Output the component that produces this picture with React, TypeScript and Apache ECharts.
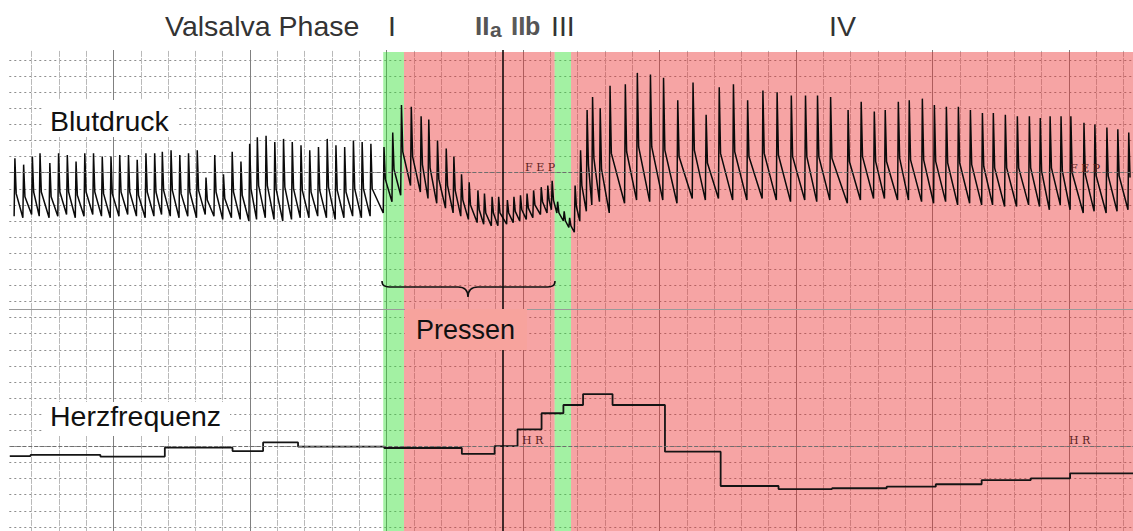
import React, { useEffect, useRef } from "react";
import * as echarts from "echarts";

// ---------- time base: seconds (2.5 s per chart-paper division) ----------
const T_END = 103.36;

// ---------- arterial blood pressure, beat by beat (mmHg) ----------
// onset time (s), systolic peak, diastolic foot, dicrotic notch
const restTimes = [0.9, 1.7, 2.5, 3.2, 4.1, 4.9, 5.7, 6.5, 7.3, 8.1, 8.9, 9.7, 10.5, 11.3, 12.1, 12.9, 13.7, 14.4, 15.2, 16.0, 16.8, 17.6, 18.4, 19.2, 20.0, 20.8, 21.6, 22.4, 23.1, 23.9, 24.7, 25.5, 26.3, 27.1, 27.9, 28.7, 29.5, 30.3, 31.1, 31.9, 32.7, 33.5];
const restSys = [109, 105, 110, 112, 106, 112, 111, 107, 112, 112, 110, 110, 111, 111, 108, 112, 112, 113, 114, 111, 112, 114, 97, 111, 99, 113, 107, 118, 122, 123, 119, 121, 119, 117, 114, 116, 121, 117, 116, 120, 119, 118];
const restDia = [73, 72, 74, 73, 72, 73, 74, 72, 73, 74, 73, 72, 73, 74, 73, 72, 73, 74, 73, 72, 73, 72, 74, 73, 71, 72, 71, 70, 71, 72, 71, 70, 71, 72, 72, 73, 72, 71, 72, 73, 72, 73];
const restNotch = [87, 85, 88, 88, 85, 88, 88, 86, 88, 88, 87, 87, 88, 88, 86, 88, 88, 89, 89, 87, 88, 89, 83, 88, 84, 88, 86, 90, 92, 92, 90, 91, 90, 89, 88, 89, 91, 89, 88, 90, 90, 90];

const p1Times = [34.7, 35.5, 36.3];
const p1Sys = [116, 125, 142];
const p1Dia = [75, 82, 86];
const p1Notch = [96, 102, 113];

const p2Times = [37.2, 38.1, 38.8, 39.6, 40.4, 41.1, 41.8, 42.5, 43.3, 43.9, 44.6, 45.2, 46.0, 46.6, 47.2, 47.8, 48.4, 49.1, 49.7, 50.1];
const p2Sys = [141, 135, 133, 120, 115, 110, 99, 94, 89, 87, 85, 85, 83, 85, 86, 87, 89, 91, 92, 95];
const p2Dia = [92, 88, 84, 81, 78, 75, 73, 71, 69, 68, 67, 67, 68, 69, 70, 71, 72, 74, 75, 77];
const p2Notch = [110, 105, 103, 96, 92, 89, 83, 80, 77, 75, 75, 75, 75, 76, 77, 78, 80, 82, 83, 83];

const p3Times = [50.6, 51.2, 51.7];
const p3Sys = [82, 76, 72];
const p3Dia = [75, 70, 66];
const p3Notch = [75, 70, 67];

const p4Times = [52.2, 52.7, 53.3, 53.8, 54.5, 55.4, 56.8, 57.9, 59.1, 60.3, 61.6, 63.0, 64.2, 65.4, 66.7, 68.0, 69.4, 70.7, 72.0, 73.3, 74.4, 75.6, 77.2, 78.4, 79.6, 80.6, 81.8, 82.8, 84.0, 85.1, 86.2, 87.3, 88.4, 89.5, 90.5, 91.6, 92.7, 93.8, 94.8, 95.7, 96.7, 97.6, 98.8, 99.8, 100.9, 101.9, 102.9];
const p4Sys = [92, 114, 139, 147, 140, 154, 155, 162, 161, 159, 145, 156, 136, 153, 155, 145, 151, 150, 148, 148, 148, 147, 139, 144, 138, 139, 144, 145, 146, 142, 141, 141, 139, 137, 137, 136, 135, 135, 134, 135, 135, 135, 131, 130, 128, 127, 125];
const p4Dia = [63, 70, 76, 80, 82, 75, 81, 83, 82, 83, 81, 84, 83, 84, 83, 83, 84, 83, 82, 83, 82, 83, 81, 83, 84, 84, 83, 83, 82, 81, 82, 80, 81, 80, 80, 79, 79, 80, 79, 77, 80, 77, 75, 76, 75, 76, 77];
const p4Notch = [79, 92, 105, 109, 102, 112, 113, 116, 116, 114, 110, 114, 106, 112, 113, 110, 112, 111, 110, 110, 110, 109, 107, 110, 107, 107, 109, 108, 108, 107, 106, 106, 105, 104, 103, 103, 103, 103, 101, 103, 101, 100, 99, 98, 98, 98, 97];

// ---------- heart rate, stepwise (bpm) ----------
const hrStepTimes = [0.5, 2.4, 8.8, 14.7, 20.9, 23.7, 26.9, 34.8, 41.9, 44.9, 47.0, 49.2, 51.2, 53.0, 55.7, 60.5, 65.6, 70.9, 75.8, 80.8, 85.3, 89.5, 94.0, 97.6, 103.36];
const hrStepValues = [69.0, 69.7, 68.7, 74.2, 72.1, 77.5, 74.8, 74.0, 70.3, 75.2, 85.6, 95.6, 100.7, 107.5, 100.7, 71.7, 50.4, 48.5, 49.0, 50.0, 51.5, 54.1, 55.2, 58.3, 58.3];

// ---------- Valsalva phases (s) ----------
const phaseStart = [34.7, 36.6, 50.4, 51.9];
const phaseEnd = [36.6, 50.4, 51.9, T_END];
const phaseKind = ["onset", "strain", "release", "recovery"];
const phase2Split = 45.67;

// reference lines
const bpReference = 100; // mmHg
const hrReference = 75; // bpm

const RISE_S = 0.07;
const NOTCH_S = 0.19;

function beatWave(times: number[], sys: number[], dia: number[], notch: number[]) {
  const out: number[][] = [];
  times.forEach((t, i) => {
    out.push([t, dia[i]]);
    out.push([t + RISE_S, sys[i]]);
    out.push([t + NOTCH_S, notch[i]]);
  });
  return out;
}

const FONT = '"Liberation Sans", Arial, Helvetica, sans-serif';
const SERIF = '"DejaVu Serif", "Liberation Serif", serif';

const BRACE_PATH =
  "M382 281 C382 286 385 287 392 287 L458 287 C465 287 468 290 468 297 C468 290 471 287 478 287 L545 287 C552 287 555 286 555 281";

const GREEN = "rgba(50,225,50,0.45)";
const RED = "rgba(235,45,45,0.43)";

export default function App() {
  const ref = useRef<HTMLDivElement>(null);

  useEffect(() => {
    if (!ref.current) return;
    try {
      echarts.graphic.registerShape("brace", echarts.graphic.extendPath(BRACE_PATH, {}));
    } catch (e) {
      /* already registered */
    }
    const chart = echarts.init(ref.current, undefined, { renderer: "svg" });

    const bpData = [
      ...beatWave(restTimes, restSys, restDia, restNotch),
      ...beatWave(p1Times, p1Sys, p1Dia, p1Notch),
      ...beatWave(p2Times, p2Sys, p2Dia, p2Notch),
      ...beatWave(p3Times, p3Sys, p3Dia, p3Notch),
      ...beatWave(p4Times, p4Sys, p4Dia, p4Notch),
    ];
    const hrData = hrStepTimes.map((t, i) => [t, hrStepValues[i]]);

    const PAPER_TOP = 43.9;
    const PAPER_DIVS = 30.255;
    const BAND_TOP_DIV = 0.5;
    const DIVIDER_DIV = 16.47;

    const bandAreas = phaseStart.map((s, i) => [
      { xAxis: s, yAxis: BAND_TOP_DIV, itemStyle: { color: phaseKind[i] === "onset" || phaseKind[i] === "release" ? GREEN : RED } },
      { xAxis: phaseEnd[i], yAxis: PAPER_DIVS },
    ]);

    const hidden = { axisLine: { show: false }, axisTick: { show: false }, axisLabel: { show: false } };

    const text = (t: string, x: number, y: number, size: number, fill: string, weight = "normal", family = FONT) => ({
      type: "text",
      x,
      y,
      z: 100,
      silent: true,
      style: {
        text: t,
        font: `${weight} ${size}px ${family}`,
        fill,
        align: "left",
        verticalAlign: "middle",
      },
    });
    const rect = (x: number, y: number, w: number, h: number, fill: string, z = 90) => ({
      type: "rect",
      z,
      silent: true,
      shape: { x, y, width: w, height: h },
      style: { fill },
    });

    const option: any = {
      animation: false,
      backgroundColor: "#ffffff",
      grid: [
        { left: 4.3, right: 0, top: PAPER_TOP, bottom: 0 },
        { left: 113.5, right: 0, top: PAPER_TOP, bottom: 0 },
        { left: 4.3, right: 0, top: 60, bottom: 213.4 },
        { left: 4.3, right: 0, top: 317.6, bottom: 4.1 },
      ],
      xAxis: [
        {
          gridIndex: 0, type: "value", min: 0, max: T_END, interval: 2.5, ...hidden,
          splitLine: { show: true, showMinLine: false, showMaxLine: false, lineStyle: { color: "#b9b9b9", width: 1, type: [6, 1] } },
        },
        {
          gridIndex: 1, type: "value", min: 0, max: T_END - 10, interval: 12.5, ...hidden,
          splitLine: { show: true, showMaxLine: false, lineStyle: { color: "#808080", width: 1 } },
        },
        { gridIndex: 2, type: "value", min: 0, max: T_END, show: false },
        { gridIndex: 3, type: "value", min: 0, max: T_END, show: false },
      ],
      yAxis: [
        {
          gridIndex: 0, type: "value", inverse: true, min: 0, max: PAPER_DIVS, interval: 1, ...hidden,
          splitLine: { show: true, showMinLine: false, showMaxLine: false, lineStyle: { color: "#8e8e8e", width: 1, type: [2, 3] } },
        },
        { gridIndex: 1, type: "value", min: 0, max: 1, show: false },
        { gridIndex: 2, type: "value", min: 10, max: 170, show: false },
        { gridIndex: 3, type: "value", min: 25, max: 155, show: false },
      ],
      series: [
        {
          name: "paper",
          type: "line",
          xAxisIndex: 0,
          yAxisIndex: 0,
          data: [],
          z: 2,
          silent: true,
          markLine: {
            silent: true,
            symbol: ["none", "none"],
            label: { show: false },
            lineStyle: { color: "#9a9a9a", type: "solid", width: 1.2 },
            data: [{ yAxis: DIVIDER_DIV }],
          },
        },
        {
          name: "Blutdruck",
          type: "line",
          xAxisIndex: 2,
          yAxisIndex: 2,
          data: bpData,
          symbol: "none",
          z: 3,
          lineStyle: { color: "#0a0a0a", width: 1.5 },
          markLine: {
            silent: true,
            symbol: ["none", "none"],
            label: { show: false },
            lineStyle: { color: "#6e6e6e", type: [4, 2], width: 1 },
            data: [{ yAxis: bpReference }],
          },
        },
        {
          name: "Herzfrequenz",
          type: "line",
          xAxisIndex: 3,
          yAxisIndex: 3,
          data: hrData,
          step: "end",
          symbol: "none",
          z: 3,
          lineStyle: { color: "#141414", width: 1.8 },
          markLine: {
            silent: true,
            symbol: ["none", "none"],
            label: { show: false },
            lineStyle: { color: "#6e6e6e", type: [4, 2], width: 1 },
            data: [{ yAxis: hrReference }],
          },
        },
        {
          name: "phases",
          type: "line",
          xAxisIndex: 0,
          yAxisIndex: 0,
          data: [],
          z: 5,
          silent: true,
          markArea: { silent: true, data: bandAreas },
        },
        {
          name: "split",
          type: "line",
          xAxisIndex: 0,
          yAxisIndex: 0,
          data: [],
          z: 7,
          silent: true,
          markLine: {
            silent: true,
            symbol: ["none", "none"],
            label: { show: false },
            lineStyle: { color: "#000000", type: "solid", width: 1.5 },
            data: [{ xAxis: phase2Split }],
          },
        },
      ],
      graphic: {
        elements: [
          rect(0, 0, 1133, 50, "#ffffff", 50),
          rect(0, 0, 9, 531, "#ffffff", 50),
          rect(43, 100, 134, 37, "#ffffff"),
          rect(43, 402, 187, 34, "#ffffff"),
          rect(405, 309, 122, 41, "#f7a39d"),
          text("Valsalva Phase", 165, 26, 28.5, "#333333"),
          text("I", 388, 26, 28.5, "#333333"),
          text("II", 475, 26, 26, "#555555", "bold"),
          text("a", 490, 29, 21, "#555555", "bold"),
          text("II", 511, 26, 26, "#5a5a5a", "bold"),
          text("b", 525, 26, 25, "#555555", "bold"),
          text("III", 551, 26, 28.5, "#333333"),
          text("IV", 829, 26, 28.5, "#333333"),
          text("Blutdruck", 50, 121, 28.5, "#111111"),
          text("Herzfrequenz", 50, 416, 28.5, "#111111"),
          text("Pressen", 416, 330, 27, "#111111"),
          text("F E P", 525, 167, 11, "#5a1c1c", "normal", SERIF),
          text("F E P", 1070, 168, 11, "#5a1c1c", "normal", SERIF),
          text("H R", 522, 440, 11, "#5a1c1c", "normal", SERIF),
          text("H R", 1069, 440, 11, "#5a1c1c", "normal", SERIF),
          {
            type: "brace",
            x: 0,
            y: 0,
            z: 100,
            silent: true,
            style: { stroke: "#111111", fill: "none", lineWidth: 1.6 },
          },
        ],
      },
    };

    chart.setOption(option);
    return () => chart.dispose();
  }, []);

  return (
    <div
      ref={ref}
      style={{ position: "fixed", left: 0, top: 0, width: 1133, height: 531, background: "#fff" }}
    />
  );
}
